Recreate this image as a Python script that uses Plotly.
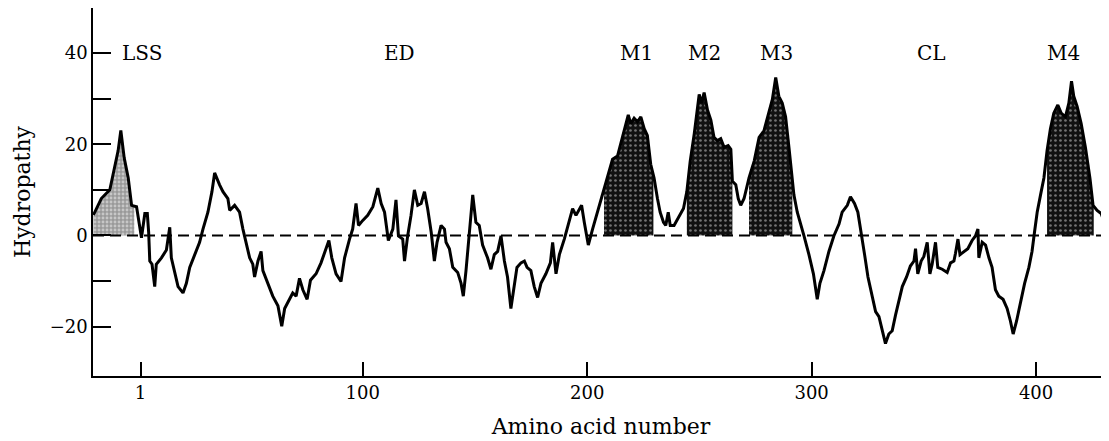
import numpy as np
import plotly.graph_objects as go

# ---- data (residue number, hydropathy) ----
residue = [-20, -16.5, -12.7, -10.5, -9, -7.8, -6.3, -4.5, -3, -0.8, 0.6, 1.4, 2.9, 4, 4.6, 5.1, 6.1, 7.3, 8,
           10.3, 12.5, 14, 14.7, 16.2, 17.7, 19.9, 21.4, 22.9, 25.1, 27.3, 28.8, 31, 32.8, 34, 36.2, 37.7, 39.9,
           40.7, 42.9, 45.1, 46.6, 48.1, 49.6, 51, 51.8, 53.3, 54.7, 55.5, 57.7, 59.9, 62.2, 63.9, 65.2, 67.4,
           68.8, 70.3, 71.8, 73.3, 75.2, 76.7, 79.2, 81.4, 82.9, 84.9, 86.2, 88.1, 90.3, 91.9, 94.1, 95.5, 97,
           98.1, 100, 102.2, 104.5, 106.7, 108.2, 109.7, 111.4, 113.4, 114.8, 115.9, 117.8, 118.6, 120, 121.5,
           123, 124.5, 126, 127.5, 128.9, 130.5, 131.9, 133.1, 134.9, 136.4, 137.1, 138.6, 140.1, 142.3, 143.8,
           144.8, 146, 147.5, 149, 150.4, 151.9, 153.4, 155.6, 157.1, 158.6, 160.1, 161.6, 163.1, 164.5, 166,
           167.2, 168.7, 170.5, 172, 173.2, 174.9, 176.4, 177.9, 179.4, 181.6, 183.6, 184.6, 186.1, 187.6, 189.8,
           192, 193.5, 195, 197.5, 198.7, 200.5, 202.4, 204.6, 206.8, 209, 211.3, 213.5, 215.7, 217.2, 218.3,
           219.4, 220.9, 222.4, 223.9, 225.4, 226.8, 228.3, 229.8, 231.3, 232.5, 234, 235, 236.1, 237, 238.7,
           241, 242.9, 244.4, 245.9, 247.7, 249.1, 249.9, 250.9, 252.1, 253.6, 255.1, 256.5, 258, 259.5, 261,
           262.8, 264, 264.7, 266.2, 267.3, 268.4, 269.9, 272.1, 274.4, 276.6, 278.8, 281, 282.5, 284, 285.4,
           286.9, 288.4, 289.9, 290.9, 292.1, 293.6, 295.1, 296.6, 298.8, 300.8, 302.5, 303.7, 305.5, 307.7,
           309.9, 312.2, 313.6, 315.9, 317.3, 319.1, 320.6, 322.1, 323.6, 325.1, 327, 328.5, 330, 331.5, 332.9,
           334.4, 335.9, 337.4, 338.9, 340.4, 342.3, 344, 345.6, 346.3, 347.3, 348.8, 350, 351.5, 352.7, 353.7,
           355.2, 356.2, 358.2, 360.4, 361.9, 363.4, 364.1, 365.2, 366.1, 367.8, 369.6, 371.5, 373, 374.1, 374.5,
           376, 377.5, 379, 380.4, 381.9, 383.4, 385.3, 387.1, 388.6, 389.8, 391.3, 393.1, 394.9, 396.8, 398.2,
           399.3, 400.5, 402, 403.5, 404.9, 406.4, 407.9, 409.7, 411.2, 413.1, 414.6, 415.8, 416.8, 418.3, 420.1,
           422, 424, 425.4, 427.2, 429, 430.9, 432.1]
hydropathy = [4.5, 8.1, 10, 14.8, 18.6, 23, 17, 12.6, 6.6, 6.3, 1.4, -0.5, 4.8, 4.8, 0.7, -5.6, -6.3, -11.2, -6.3,
              -4.9, -3.2, 1.8, -4.9, -8.4, -11.2, -12.6, -10.5, -7, -4.2, -1.5, 1.4, 5.1, 9.6, 13.7, 11.1, 9.6, 8.1,
              5.5, 6.6, 5.1, 1.4, -2.1, -4.9, -6.3, -9.1, -5.6, -3.5, -7.7, -10.5, -13.3, -15.4, -19.9, -16, -14,
              -12.6, -13.3, -9.4, -11.9, -14, -9.8, -8.4, -6, -3.9, -1.1, -4.9, -8.4, -10.1, -4.9, -0.8, 1.4, 7,
              2.2, 3.3, 4.4, 6.3, 10.4, 7, 5.1, -1.1, 1.4, 7.8, -0.1, -0.8, -5.6, -0.1, 4.4,
              10, 6.6, 7, 9.6, 5.9, 0.7, -5.6, -1.5, 2.2, 1.4, -1.5, -2.9, -7, -8.1, -10.5,
              -13.3, -7.7, 0.7, 8.9, 2.9, 2.2, -2.1, -4.9, -7.4, -4.2, -3.5, -0.1, -5.6, -9.1, -16,
              -11.9, -7, -6, -5.6, -7, -7.7, -11.2, -13.6, -10.5, -8.4, -6, -1.5, -8.4, -4.2, -0.8,
              2.9, 5.9, 4.4, 6.6, 2.9, -2.1, 1.4, 5.1, 8.9, 12.6, 16.7, 17.4, 21.5, 23.8, 26.4,
              24.5, 25.7, 24.9, 26, 23.4, 21.9, 15.6, 12.6, 8.1, 5.1, 2.9, 2.2, 5.1, 2.2, 2.2,
              4.4, 5.9, 9.6, 16.3, 22.3, 27.5, 30.9, 29, 31.3, 27.5, 25.3, 21.5, 20.8, 21.2, 19.3,
              19.7, 18.9, 11.9, 11.1, 8.1, 6.6, 8.1, 12.6, 16.3, 21.5, 23, 26.8, 29.8, 34.6, 30.5,
              29, 26, 19.3, 14.1, 8.9, 5.1, 2.2, -0.1, -4.2, -8.4, -14, -10.5, -7.7, -3.5,
              -0.1, 2.5, 5.1, 6.6, 8.5, 7, 5.1, 0.7, -4.2, -9.1, -13.3, -16.7, -17.8, -20.9, -23.7,
              -21.6, -20.9, -17.4, -14, -11.2, -9.1, -6.7, -5.6, -2.9, -8.4, -5.6, -4.6, -1.5, -8.4, -6.3,
              -1.5, -7, -7.4, -8.1, -6, -5.6, -3.9, -0.8, -4.2, -3.5, -2.9, -1.1, -0.1, 1.4, -4.9,
              -1.5, -2.1, -4.9, -7, -11.9, -13.3, -14, -16, -18.8, -21.6, -18.8, -14.6, -10.5, -7, -3.5,
              0.7, 5.1, 8.9, 12.6, 18.6, 23.4, 26.8, 28.6, 26.8, 26, 29, 33.8, 30.5, 28.3, 24.5,
              19.3, 12.6, 6.6, 5.5, 4.8, 2.2, 0.7]

# shaded (hydrophobic) segments
shade_names = ["LSS", "M1", "M2", "M3", "M4"]
shade_start = [-20, 207.5, 244.4, 272.1, 404.9]
shade_end = [-1.8, 229.5, 264.7, 291.4, 425.7]

# region labels
region_labels = ["LSS", "ED", "M1", "M2", "M3", "CL", "M4"]
region_pos = [1.6, 116.5, 221.8, 252.2, 284.5, 353.5, 412.4]
label_level = 40

x_tickvals = [1, 100, 200, 300, 400]
x_ticktext = ["1", "100", "200", "300", "400"]
y_tickvals = [-20, -10, 0, 10, 20, 30, 40]
y_ticktext = ["\u221220", "", "0", "", "20", "", "40"]

X = np.array(residue, dtype=float)
Y = np.array(hydropathy, dtype=float)

FONT = "DejaVu Serif"
fig = go.Figure()

for name, a, b in zip(shade_names, shade_start, shade_end):
    inner = X[(X > a) & (X < b)]
    xs = np.concatenate([[a], inner, [b]])
    ys = np.interp(xs, X, Y)
    if name == "LSS":
        pat = dict(shape=".", bgcolor="#9a9a9a", fgcolor="#f4f4f4", size=4, solidity=0.4)
    else:
        pat = dict(shape=".", bgcolor="#111111", fgcolor="#d8d8d8", size=5, solidity=0.22)
    fig.add_trace(go.Scatter(x=xs, y=ys, mode="lines", line=dict(width=0, color="black"),
                             fill="tozeroy", fillcolor="rgba(0,0,0,0)", fillpattern=pat,
                             hoverinfo="skip", showlegend=False))

fig.add_trace(go.Scatter(x=X, y=Y, mode="lines", line=dict(color="black", width=3),
                         showlegend=False))

fig.add_shape(type="line", xref="paper", x0=0, x1=1, yref="y", y0=0, y1=0,
              line=dict(color="black", width=2, dash="11px,6px"), layer="above")

for t, p in zip(region_labels, region_pos):
    fig.add_annotation(x=p, y=label_level, text=t, showarrow=False,
                       font=dict(family=FONT, size=20, color="black"), xanchor="center", yanchor="middle")

fig.update_layout(
    width=1101, height=433,
    margin=dict(l=85, r=0, t=0, b=65),
    paper_bgcolor="white", plot_bgcolor="white",
    font=dict(family=FONT, color="black", size=19),
)
fig.update_xaxes(range=[-20.2, 432.5], tickvals=x_tickvals, ticktext=x_ticktext,
                 ticks="inside", ticklen=14, tickwidth=1.5, tickcolor="black",
                 showline=True, linecolor="black", linewidth=1.5, showgrid=False, zeroline=False,
                 tickfont=dict(family=FONT, size=18),
                 title=dict(text="Amino acid number", font=dict(family=FONT, size=22), standoff=16),
                 automargin=False)
fig.update_yaxes(range=[-30.8, 49.85], tickvals=y_tickvals, ticktext=y_ticktext,
                 ticks="inside", ticklen=18, tickwidth=1.5, tickcolor="black",
                 showline=True, linecolor="black", linewidth=1.5, showgrid=False, zeroline=False,
                 tickfont=dict(family=FONT, size=18),
                 title=dict(text="Hydropathy", font=dict(family=FONT, size=22), standoff=13),
                 automargin=False)

fig.write_html("out.html")
